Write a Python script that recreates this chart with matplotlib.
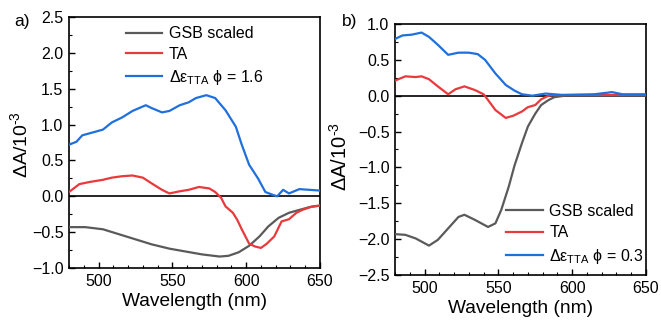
import matplotlib
matplotlib.use("Agg")
import matplotlib.pyplot as plt
from matplotlib.ticker import MultipleLocator

plt.rcParams['font.family'] = ['Liberation Sans', 'DejaVu Sans']
plt.rcParams['mathtext.fontset'] = 'custom'
plt.rcParams['mathtext.rm'] = 'Liberation Sans'
plt.rcParams['mathtext.it'] = 'Liberation Sans'

# Panel a data
a_blue_x = [480, 485, 489, 496, 503, 509, 516, 523, 532, 536, 543, 548, 555, 561, 566, 573, 579, 586, 593, 597, 602, 608, 613, 618, 621, 625, 629, 636, 643, 650]
a_blue_y = [0.72, 0.76, 0.85, 0.89, 0.93, 1.03, 1.10, 1.19, 1.27, 1.23, 1.17, 1.19, 1.27, 1.31, 1.37, 1.41, 1.37, 1.20, 0.97, 0.72, 0.44, 0.25, 0.06, 0.02, 0.00, 0.09, 0.04, 0.10, 0.09, 0.08]
a_red_x = [480, 487, 494, 503, 509, 516, 523, 530, 536, 543, 548, 555, 561, 568, 575, 579, 583, 586, 591, 594, 597, 600, 602, 606, 610, 614, 619, 624, 629, 634, 638, 645, 650]
a_red_y = [0.06, 0.17, 0.20, 0.23, 0.26, 0.28, 0.29, 0.26, 0.18, 0.09, 0.04, 0.07, 0.09, 0.13, 0.11, 0.06, -0.02, -0.14, -0.23, -0.33, -0.46, -0.58, -0.66, -0.70, -0.72, -0.66, -0.56, -0.35, -0.32, -0.23, -0.19, -0.14, -0.13]
a_gray_x = [480, 491, 503, 514, 525, 536, 548, 559, 570, 582, 588, 595, 602, 609, 615, 622, 629, 636, 643, 650]
a_gray_y = [-0.43, -0.43, -0.46, -0.53, -0.60, -0.67, -0.73, -0.77, -0.81, -0.84, -0.83, -0.78, -0.69, -0.56, -0.42, -0.30, -0.23, -0.19, -0.15, -0.13]

# Panel b data
b_blue_x = [480, 485, 491, 498, 503, 509, 516, 523, 530, 536, 541, 548, 555, 561, 566, 573, 582, 593, 615, 627, 634, 650]
b_blue_y = [0.79, 0.84, 0.85, 0.88, 0.82, 0.71, 0.57, 0.60, 0.60, 0.58, 0.50, 0.31, 0.15, 0.07, 0.02, 0.00, 0.03, 0.01, 0.02, 0.05, 0.02, 0.02]
b_red_x = [480, 487, 494, 498, 503, 509, 516, 521, 527, 534, 540, 543, 548, 555, 560, 566, 570, 575, 579, 584, 588, 610, 650]
b_red_y = [0.21, 0.27, 0.26, 0.27, 0.23, 0.13, 0.02, 0.09, 0.13, 0.08, 0.02, -0.06, -0.20, -0.31, -0.28, -0.22, -0.16, -0.13, -0.05, 0.00, 0.01, 0.01, 0.01]
b_gray_x = [480, 487, 494, 503, 509, 516, 523, 527, 534, 543, 548, 552, 557, 561, 566, 570, 575, 579, 584, 588, 595, 620, 650]
b_gray_y = [-1.93, -1.94, -1.99, -2.09, -2.01, -1.85, -1.69, -1.66, -1.73, -1.83, -1.78, -1.59, -1.27, -0.97, -0.66, -0.43, -0.25, -0.13, -0.06, -0.02, 0.00, 0.00, 0.00]

labels = ["GSB scaled", "TA"]
phi_a = "1.6"
phi_b = "0.3"

GRAY = "#5a5a5a"
RED = "#e8393c"
BLUE = "#1f6fdc"

fig = plt.figure(figsize=(6.61, 3.24), dpi=100)
axa = fig.add_axes([0.1044, 0.1728, 0.3797, 0.7747])
axb = fig.add_axes([0.5976, 0.1512, 0.3797, 0.7748])

def style(ax, ylim, ymaj, labx, laby, ylsize):
    ax.set_xlim(480, 650)
    ax.set_ylim(*ylim)
    ax.xaxis.set_major_locator(MultipleLocator(50))
    ax.xaxis.set_minor_locator(MultipleLocator(10))
    ax.yaxis.set_major_locator(MultipleLocator(ymaj))
    ax.yaxis.set_minor_locator(MultipleLocator(ymaj / 2))
    ax.tick_params(which='both', direction='in', top=False, right=False, labelsize=11.5, pad=4)
    ax.tick_params(which='major', length=4, width=1)
    ax.tick_params(which='minor', length=2.5, width=0.8)
    for s in ax.spines.values():
        s.set_linewidth(1.2)
    ax.axhline(0, color='black', lw=1.2, zorder=1)
    ax.set_xlabel("Wavelength (nm)", fontsize=13.8, labelpad=3)
    ax.set_ylabel("ΔA/10$^{\u2010" + "3}$", fontsize=ylsize)
    ax.yaxis.set_label_coords(labx, laby)

for ax, d, phi in [(axa, (a_gray_x, a_gray_y, a_red_x, a_red_y, a_blue_x, a_blue_y), phi_a),
                   (axb, (b_gray_x, b_gray_y, b_red_x, b_red_y, b_blue_x, b_blue_y), phi_b)]:
    ax.plot(d[0], d[1], color=GRAY, lw=1.6, label=labels[0], zorder=3)
    ax.plot(d[2], d[3], color=RED, lw=1.6, label=labels[1], zorder=3)
    ax.plot(d[4], d[5], color=BLUE, lw=1.6, label=r"$\Delta\varepsilon_{\mathrm{TTA}}$ ϕ = " + phi, zorder=3)

style(axa, (-1.0, 2.5), 0.5, -0.15, 0.49, 14)
style(axb, (-2.5, 1.0), 0.5, -0.175, 0.47, 14.5)

axa.legend(loc='upper center', bbox_to_anchor=(0.50, 1.02), frameon=False, fontsize=11.5,
           handlelength=2.3, handletextpad=0.4, labelspacing=0.35)
axb.legend(loc='lower right', bbox_to_anchor=(1.048, -0.02), frameon=False, fontsize=11.5,
           handlelength=2.3, handletextpad=0.4, labelspacing=0.4)

fig.text(0.022, 0.935, "a)", fontsize=12.5, va='center')
fig.text(0.518, 0.935, "b)", fontsize=12.5, va='center')

fig.savefig("out.png", dpi=100)
